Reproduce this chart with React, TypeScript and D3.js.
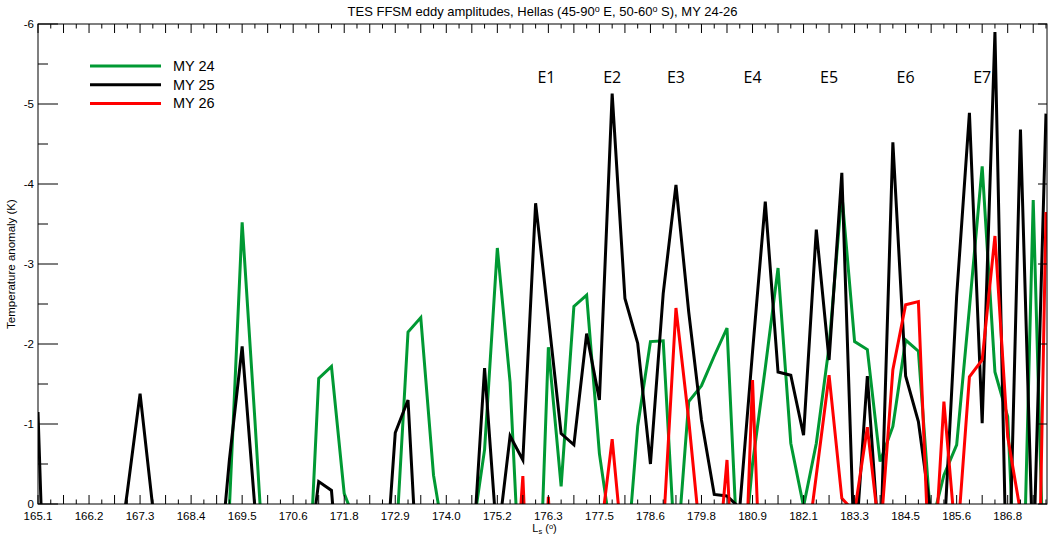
import React from "react";
import * as d3 from "d3";

// Ls labels every 4 sols (one data point per sol)
const lsLabels = [
  "165.1", "166.2", "167.3", "168.4", "169.5", "170.6", "171.8", "172.9", "174.0", "175.2",
  "176.3", "177.5", "178.6", "179.8", "180.9", "182.1", "183.3", "184.5", "185.6", "186.8",
];

// eddy amplitudes (K); positive values fall below the 0 line and are clipped
const my24 = [
  1, 1, 1, 1, 1, 1, 1, 1, 1, 1,
  1, 1, 1, 1, 1, 0.05, -3.52, -1.05, 1.57, 1,
  1, 1.74, -1.57, -1.72, -0.13, 0.28, 1, 1, 0.66, -2.15,
  -2.33, -0.36, 0.61, 1, 0.42, -0.68, -3.2, -1.52, 1.77, 2.5,
  -1.96, -0.22, -2.47, -2.61, -0.63, 0.47, 1.0, -0.97, -2.03, -2.04,
  0.8, -1.28, -1.48, -1.85, -2.2, 1.2, -0.5, -1.7, -2.95, -0.76,
  0.03, -0.76, -1.97, -3.88, -2.03, -1.93, -0.53, -0.97, -2.05, -1.91,
  0.28, -0.36, -0.74, -2.45, -4.22, -1.65, -1.09, 2.5, -3.8, 1.96,
];

const my25 = [
  -1.15, 3.7, 1, 1, 1, 1, 1, -0.15, -1.38, 0.05,
  1, 1, 1, 1, 1.2, -0.55, -1.97, 0.05, 1, 1,
  1, 1.0, -0.28, -0.17, 1.7, 1, 1, 1.38, -0.89, -1.3,
  1.65, 1, 1, 1, 0.84, -1.7, 0.5, -0.85, -0.55, -3.76,
  -2.34, -0.88, -0.74, -2.13, -1.3, -5.13, -2.57, -2.01, -0.5, -2.63,
  -3.99, -2.4, -1.05, -0.12, -0.1, 0.05, -1.9, -3.78, -1.65, -1.61,
  -0.86, -3.43, -1.8, -4.14, 0.7, -1.6, 0.7, -4.52, -1.6, -1.03,
  0.15, 0.45, -2.6, -4.89, -1.01, -5.9, 1.66, -4.68, 0.8, -4.88,
];

const my26 = [
  1, 1, 1, 1, 1, 1, 1, 1, 1, 1,
  1, 1, 1, 1, 1, 1, 1, 1, 1, 1,
  1, 1, 1, 1, 1, 1, 1, 1, 1, 1,
  1, 1, 1, 1, 1, 1, 1, 2, -0.35, 3.5,
  -0.09, 3, 1, 1, 0.5, -0.81, 0.88, 1, 1, 0.35,
  -2.45, -1.05, 0.58, 1.28, -0.55, 2.8, -1.55, 2.6, 1, 1,
  0.88, -0.36, -1.61, -0.07, 0.1, -0.96, 0.45, -1.68, -2.49, -2.53,
  1.4, -1.28, 0.58, -1.59, -1.8, -3.35, -0.84, 0.1, 5, -3.65,
];

const seriesNames = ["MY 24", "MY 25", "MY 26"];
const seriesColors = ["#009933", "#000000", "#ff0000"];

const eventNames = ["E1", "E2", "E3", "E4", "E5", "E6", "E7"];
const eventSols = [39.85, 45, 50, 56, 62, 68, 74];

const yTicks = [0, -1, -2, -3, -4, -5, -6];

const W = 1048;
const H = 536;
const margin = { top: 24, right: 1, bottom: 32, left: 38 };
const font = "'Liberation Sans', Arial, Helvetica, sans-serif";

export default function App() {
  const x = d3.scaleLinear().domain([0, 79.08]).range([margin.left, W - margin.right]);
  const y = d3.scaleLinear().domain([0, -6]).range([H - margin.bottom, margin.top]);

  const line = d3
    .line<number>()
    .x((d, i) => x(i))
    .y((d) => y(d));

  const x0 = x.range()[0];
  const x1 = x.range()[1];
  const yb = y(0);
  const yt = y(-6);

  const sols = d3.range(0, 80);
  const halfTicks = d3.range(0, 6.01, 0.5).map((v) => -v);

  return (
    <svg
      width={W}
      height={H}
      style={{ position: "absolute", left: 0, top: 0, background: "#fff" }}
      fontFamily={font}
    >
      <defs>
        <clipPath id="plot">
          <rect x={x0} y={yt} width={x1 - x0} height={yb - yt} />
        </clipPath>
      </defs>

      <text x={(x0 + x1) / 2} y={16} textAnchor="middle" fontSize={13}>
        TES FFSM eddy amplitudes, Hellas (45-90<tspan dy={-4} fontSize={9}>o</tspan>
        <tspan dy={4}> E, 50-60</tspan>
        <tspan dy={-4} fontSize={9}>o</tspan>
        <tspan dy={4}> S), MY 24-26</tspan>
      </text>

      {/* data lines */}
      <g clipPath="url(#plot)" fill="none" strokeWidth={3} strokeLinejoin="miter">
        {[my24, my25, my26].map((s, k) => (
          <path key={k} d={line(s) || ""} stroke={seriesColors[k]} />
        ))}
      </g>

      {/* frame */}
      <rect x={x0} y={yt} width={x1 - x0} height={yb - yt} fill="none" stroke="#000" strokeWidth={1} />

      {/* x ticks, bottom and top */}
      <g stroke="#000" strokeWidth={1}>
        {sols.map((i) => {
          const len = i % 2 === 0 ? 9 : 4.5;
          return (
            <g key={i}>
              <line x1={x(i)} x2={x(i)} y1={yb} y2={yb - len} />
              <line x1={x(i)} x2={x(i)} y1={yt} y2={yt + len} />
            </g>
          );
        })}
        {halfTicks.map((v, i) => {
          const major = i % 2 === 0;
          return (
            <g key={"y" + i}>
              <line x1={x0} x2={x0 + (major ? 20 : 10)} y1={y(v)} y2={y(v)} />
              {major && <line x1={x1} x2={x1 - 9} y1={y(v)} y2={y(v)} />}
            </g>
          );
        })}
      </g>

      {lsLabels.map((l, i) => (
        <text key={l} x={x(i * 4)} y={yb + 16} textAnchor="middle" fontSize={11.5}>
          {l}
        </text>
      ))}
      {yTicks.map((v) => (
        <text key={v} x={x0 - 4} y={y(v) + 4} textAnchor="end" fontSize={11.5}>
          {v}
        </text>
      ))}

      <text x={(x0 + x1) / 2 + 2} y={H - 4} textAnchor="middle" fontSize={11}>
        L<tspan fontSize={7.5} dy={1.5}>s</tspan>
        <tspan dy={-1.5}> (</tspan>
        <tspan fontSize={7.5} dy={-3.5}>o</tspan>
        <tspan dy={3.5}>)</tspan>
      </text>
      <text
        transform={`translate(15,${(yt + yb) / 2}) rotate(-90)`}
        textAnchor="middle"
        fontSize={11.5}
      >
        Temperature anomaly (K)
      </text>

      {/* event labels */}
      {eventNames.map((e, i) => (
        <text
          key={e}
          x={x(eventSols[i])}
          y={83}
          textAnchor="middle"
          fontSize={16}
          fontFamily="'Open Sans', sans-serif"
        >
          {e}
        </text>
      ))}

      {/* legend */}
      {seriesNames.map((n, k) => (
        <g key={n} transform={`translate(0,${66 + k * 18.7})`}>
          <line x1={90} x2={161} y1={0} y2={0} stroke={seriesColors[k]} strokeWidth={3} />
          <text x={173} y={5} fontSize={14.5}>
            {n}
          </text>
        </g>
      ))}
    </svg>
  );
}
